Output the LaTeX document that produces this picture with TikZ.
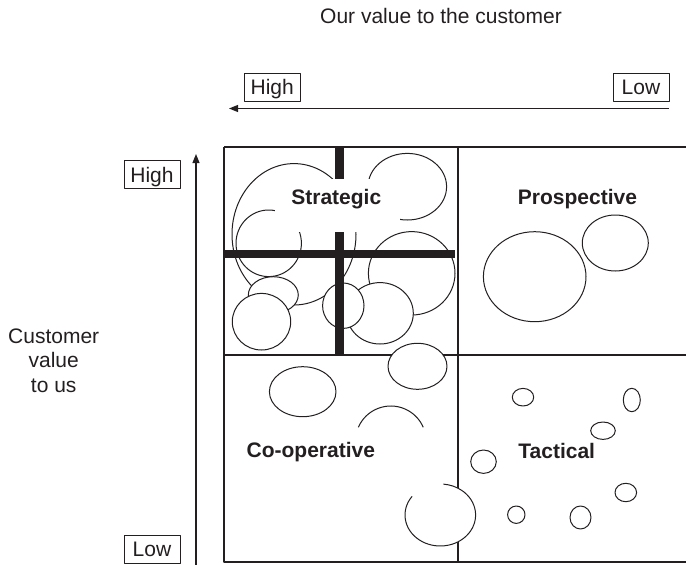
\documentclass[tikz,border=0pt]{standalone}
\usepackage{fontspec}
\setmainfont{Liberation Sans}
\usetikzlibrary{arrows.meta}
\definecolor{ink}{RGB}{35,31,32}
\begin{document}
\begin{tikzpicture}[x=1pt,y=-1pt,line join=round,
  gridline/.style={draw=ink,line width=1.1pt},
  bubble/.style={draw=ink,line width=1pt,fill=white},
  bar/.style={draw=ink,line width=8.5pt},
  axisarrow/.style={draw=ink,line width=1.1pt,-{Triangle[length=9pt,width=7pt]}},
  lbl/.style={font=\fontsize{21}{24.5}\selectfont,text=ink,inner sep=0pt,anchor=base},
  quad/.style={lbl,font=\fontsize{21}{24.5}\selectfont\bfseries},
  valbox/.style={draw=ink,line width=1pt,font=\fontsize{21}{24}\selectfont,text=ink,
    inner sep=0pt,text height=15.2pt,text depth=0pt,minimum width=56pt,minimum height=28pt}]
\useasboundingbox (0,0) rectangle (686,565);

% grid
\draw[gridline] (224,147) -- (686,147);
\draw[gridline] (224,147) -- (224,562) -- (686,562);
\draw[gridline] (458,147) -- (458,562);
\draw[gridline] (224,355) -- (686,355);

% strategic bubbles
\filldraw[bubble] (294,234.3) ellipse[x radius=62,y radius=70.7];
\filldraw[bubble] (268.7,243.3) ellipse[x radius=32.7,y radius=33.3];
\filldraw[bubble] (407.3,186.7) ellipse[x radius=39.3,y radius=33.3];
\filldraw[bubble] (411.7,273.3) ellipse[x radius=43.3,y radius=41.7];
\filldraw[bubble] (380,313.3) ellipse[x radius=33.3,y radius=30.7];
\filldraw[bubble] (343.3,305.7) ellipse[x radius=20.7,y radius=22.7];
\filldraw[bubble] (273.3,295) ellipse[x radius=25,y radius=18.3];
\filldraw[bubble] (261.5,321.7) ellipse[x radius=29.2,y radius=28.3];

% cross bars
\draw[bar] (224,254.2) -- (455,254.2);
\draw[bar] (339.5,147) -- (339.5,355);
\fill[white] (275,179) rectangle (400,232);

% prospective bubbles
\filldraw[bubble] (534.7,276.7) ellipse[x radius=51.3,y radius=45];
\filldraw[bubble] (615.3,243) ellipse[x radius=33,y radius=28];

% co-operative bubbles
\filldraw[bubble] (302.7,391.7) ellipse[x radius=33.3,y radius=25];
\filldraw[bubble] (417.5,366.3) ellipse[x radius=29.5,y radius=23];
\draw[bubble] ([shift={(-156.5:35.4)}]390.8,441.4) arc[start angle=-156.5,end angle=-23.5,radius=35.4];
\filldraw[bubble] ([shift={(-143:35.3 and 31)}]440.3,515) arc[start angle=-143,end angle=-445,x radius=35.3,y radius=31];

% tactical bubbles
\filldraw[bubble] (523,397.2) ellipse[x radius=10.7,y radius=8.8];
\filldraw[bubble] (631.8,400) ellipse[x radius=8.5,y radius=11.7];
\filldraw[bubble] (603,430.7) ellipse[x radius=12.3,y radius=8.7];
\filldraw[bubble] (483.5,461.7) ellipse[x radius=12.8,y radius=11.7];
\filldraw[bubble] (625.8,492.5) ellipse[x radius=10.8,y radius=9.2];
\filldraw[bubble] (516.3,514.7) ellipse[x radius=8.7,y radius=8.7];
\filldraw[bubble] (580.5,517.5) ellipse[x radius=10.5,y radius=11.5];

% quadrant labels
\node[quad] (strat) at (336.3,204) {Strategic};
\node[quad] (prosp) at (577.5,204) {Prospective};
\node[quad] (coop) at (310.8,457) {Co-operative};
\node[quad] (tact) at (556.7,458) {Tactical};

% axes
\coordinate (hs) at (669,108.5);
\coordinate (he) at (229,108.5);
\draw[axisarrow] (hs) -- (he);
\coordinate (vs) at (196,565);
\coordinate (ve) at (196,154);
\draw[axisarrow] (vs) -- (ve);

\node[valbox] (thigh) at (272.2,87) {High};
\node[valbox] (tlow) at (641,87) {Low};
\node[valbox] (vhigh) at (152,174.5) {High};
\node[valbox] (vlow) at (152,549) {Low};

\node[lbl] (title) at (441,23) {Our value to the customer};
\node[lbl] (cv1) at (53.7,343) {Customer};
\node[lbl] (cv2) at (53.7,367) {value};
\node[lbl] (cv3) at (53.7,392) {to us};
\end{tikzpicture}
\end{document}
